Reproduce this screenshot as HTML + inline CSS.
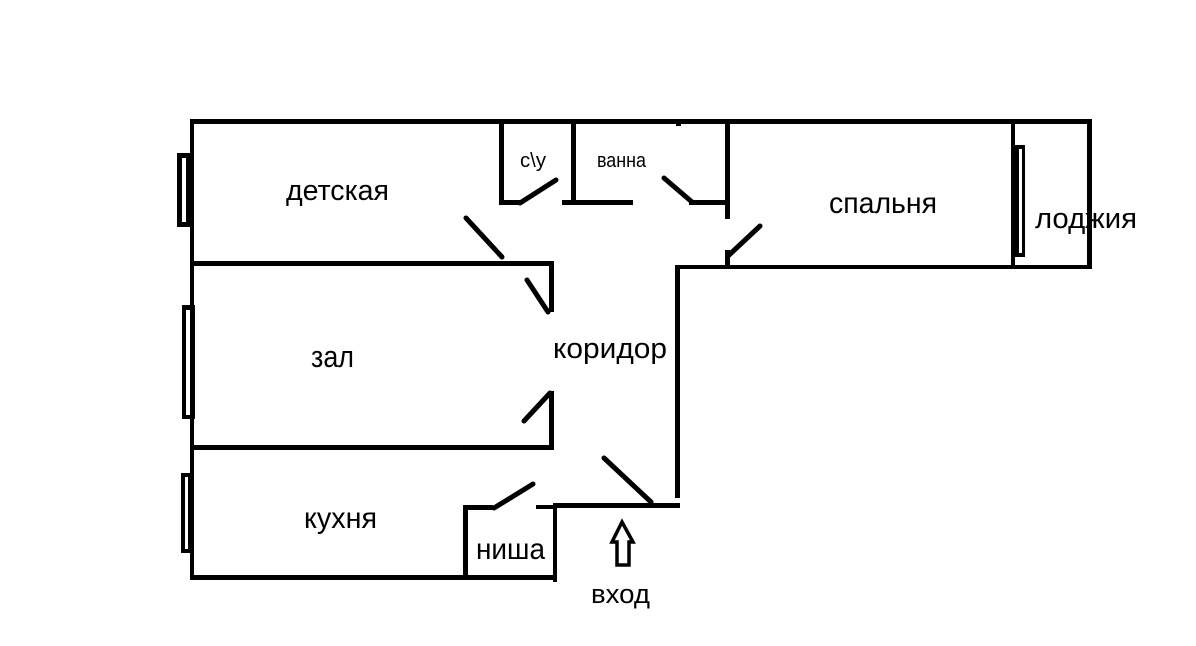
<!DOCTYPE html>
<html>
<head>
<meta charset="utf-8">
<style>
  html, body { margin: 0; padding: 0; background: #fff; }
  body { width: 1196px; height: 646px; overflow: hidden; }
  svg { display: block; }
  text { font-family: "Liberation Sans", "DejaVu Sans", sans-serif; fill: #000; }
</style>
</head>
<body>
<svg width="1196" height="646" viewBox="0 0 1196 646" xmlns="http://www.w3.org/2000/svg">
  <rect x="0" y="0" width="1196" height="646" fill="#fff"/>

  <!-- windows (drawn first, walls overlay) -->
  <rect x="177" y="153" width="13" height="74" fill="#000"/>
  <rect x="182" y="158" width="4" height="64" fill="#fff"/>

  <rect x="182" y="305" width="13" height="114" fill="#000"/>
  <rect x="186" y="310" width="4" height="105" fill="#fff"/>

  <rect x="181" y="473" width="9" height="80" fill="#000"/>
  <rect x="185" y="477" width="3" height="72" fill="#fff"/>

  <rect x="1011" y="145" width="14" height="112" fill="#000"/>
  <rect x="1019" y="149" width="3" height="104" fill="#fff"/>

  <!-- walls -->
  <g fill="#000">
    <!-- outer top -->
    <rect x="190" y="119" width="902" height="5"/>
    <!-- outer left -->
    <rect x="190" y="119" width="4" height="461"/>
    <!-- детская bottom / зал top -->
    <rect x="190" y="261" width="364" height="5"/>
    <!-- зал right wall upper / lower -->
    <rect x="549" y="261" width="5" height="51"/>
    <rect x="549" y="391" width="5" height="59"/>
    <!-- зал bottom -->
    <rect x="190" y="445" width="364" height="5"/>
    <!-- кухня bottom -->
    <rect x="190" y="575" width="367" height="5"/>
    <!-- ниша -->
    <rect x="463" y="505" width="5" height="75"/>
    <rect x="463" y="505" width="30" height="5"/>
    <rect x="536" y="505" width="20" height="4"/>
    <rect x="553" y="503" width="127" height="5"/>
    <rect x="553" y="503" width="4" height="79"/>
    <!-- corridor right wall -->
    <rect x="675" y="265" width="5" height="233"/>
    <!-- спальня bottom -->
    <rect x="675" y="265" width="417" height="4"/>
    <!-- спальня left wall -->
    <rect x="725" y="119" width="5" height="100"/>
    <rect x="725" y="250" width="5" height="17"/>
    <!-- спальня right wall -->
    <rect x="1011" y="119" width="4" height="150"/>
    <!-- лоджия right wall -->
    <rect x="1087" y="119" width="5" height="150"/>
    <!-- с\у -->
    <rect x="499" y="119" width="5" height="86"/>
    <rect x="499" y="200" width="21" height="5"/>
    <rect x="571" y="119" width="5" height="86"/>
    <!-- ванна bottom -->
    <rect x="562" y="200" width="71" height="5"/>
    <rect x="689" y="200" width="41" height="5"/>
    <!-- tiny notch -->
    <rect x="676" y="124" width="5" height="2"/>
  </g>

  <!-- doors -->
  <g stroke="#000" stroke-width="5" stroke-linecap="round" fill="none">
    <line x1="466" y1="218" x2="502" y2="257"/>
    <line x1="520" y1="203" x2="556" y2="180"/>
    <line x1="664" y1="178" x2="692" y2="202"/>
    <line x1="760" y1="226" x2="728" y2="256"/>
    <line x1="527" y1="280" x2="548" y2="312"/>
    <line x1="550" y1="393" x2="524" y2="421"/>
    <line x1="604" y1="458" x2="651" y2="502"/>
    <line x1="494" y1="508" x2="533" y2="484"/>
  </g>

  <!-- entry arrow -->
  <polygon points="622,522 633,542 629,542 629,565 617,565 617,542 612,542"
           fill="#fff" stroke="#000" stroke-width="3.5" stroke-linejoin="miter"/>

  <!-- labels -->
  <text x="286" y="200" font-size="29" textLength="103" lengthAdjust="spacingAndGlyphs">детская</text>
  <text x="520" y="167" font-size="20" textLength="26" lengthAdjust="spacingAndGlyphs">с\у</text>
  <text x="597" y="167" font-size="20" textLength="49" lengthAdjust="spacingAndGlyphs">ванна</text>
  <text x="829" y="213" font-size="30" textLength="108" lengthAdjust="spacingAndGlyphs">спальня</text>
  <text x="1035" y="228" font-size="29" textLength="102" lengthAdjust="spacingAndGlyphs">лоджия</text>
  <text x="553" y="358" font-size="29" textLength="114" lengthAdjust="spacingAndGlyphs">коридор</text>
  <text x="311" y="367" font-size="31" textLength="43" lengthAdjust="spacingAndGlyphs">зал</text>
  <text x="304" y="528" font-size="30" textLength="73" lengthAdjust="spacingAndGlyphs">кухня</text>
  <text x="476" y="559" font-size="30" textLength="69" lengthAdjust="spacingAndGlyphs">ниша</text>
  <text x="591" y="603" font-size="27" textLength="59" lengthAdjust="spacingAndGlyphs">вход</text>
</svg>
</body>
</html>
